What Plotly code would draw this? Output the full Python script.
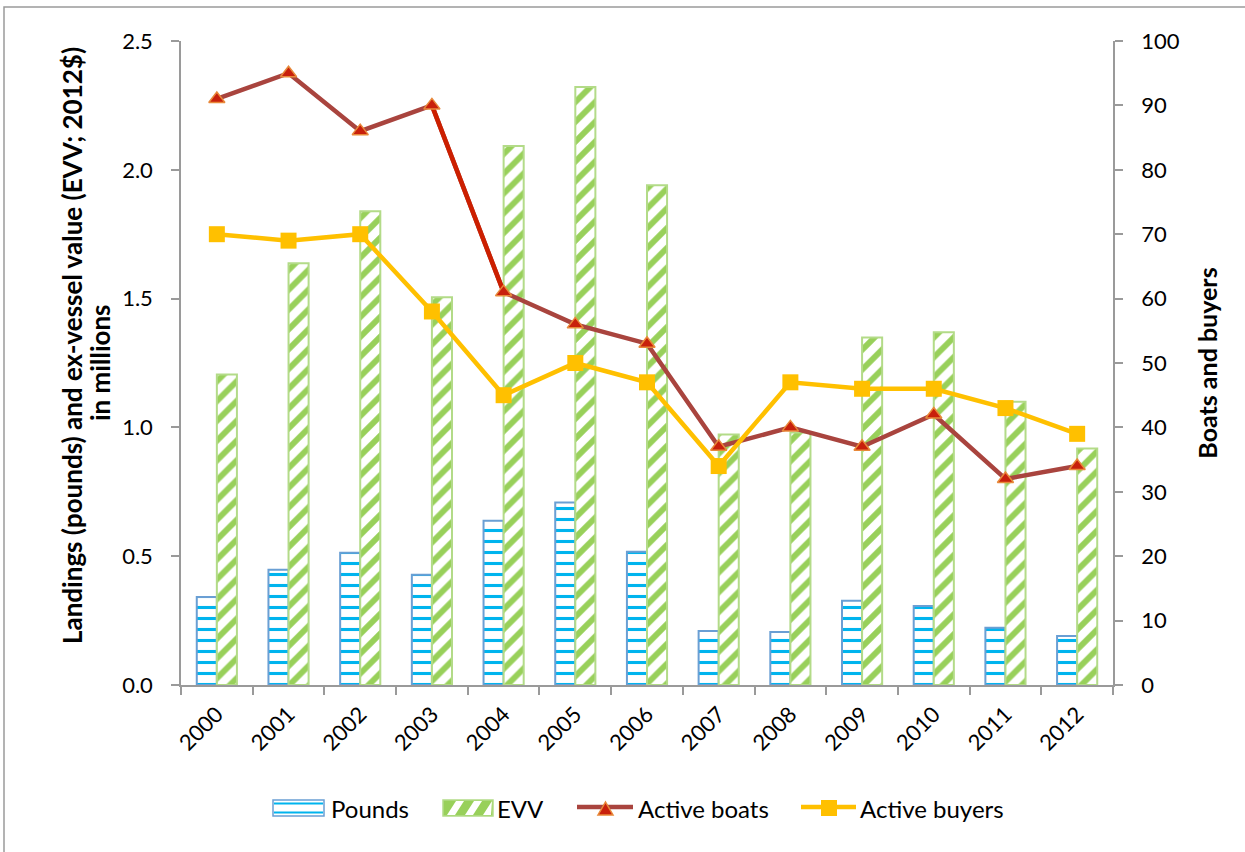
import plotly.graph_objects as go

years = ["2000", "2001", "2002", "2003", "2004", "2005", "2006",
         "2007", "2008", "2009", "2010", "2011", "2012"]
pounds = [0.342, 0.447, 0.513, 0.428, 0.638, 0.708, 0.517,
          0.210, 0.206, 0.327, 0.307, 0.222, 0.190]
evv = [1.205, 1.637, 1.839, 1.505, 2.092, 2.321, 1.940,
       0.972, 0.980, 1.349, 1.369, 1.100, 0.918]
active_boats = [91, 95, 86, 90, 61, 56, 53, 37, 40, 37, 42, 32, 34]
active_buyers = [70, 69, 70, 58, 45, 50, 47, 34, 47, 46, 46, 43, 39]
left_ticks = [0.0, 0.5, 1.0, 1.5, 2.0, 2.5]
right_ticks = [0, 10, 20, 30, 40, 50, 60, 70, 80, 90, 100]
legend_labels = ["Pounds", "EVV", "Active boats", "Active buyers"]
left_title_lines = ["Landings (pounds) and ex-vessel value (EVV; 2012$)", "in millions"]
right_title = "Boats and buyers"

FONT = "Lato, Open Sans, Liberation Sans, Arial"
BOAT_LINE = "#A9443E"
BOAT_SEG = "#CC1F00"
BOAT_MK = "#C8200C"
BOAT_MK_EDGE = "#E8893A"
BUYER = "#FFC000"
POUND_EDGE = "#6A9FD4"
POUND_FG = "#00B4EE"
EVV_EDGE = "#B3DB88"
EVV_FG = "#98D05A"
AXIS = "#9A9A9A"

W, H = 1245, 852
L, R, T, B = 181, 132, 41, 167
pw, ph = W - L - R, H - T - B


def px(x):
    return (x - L) / pw


def py(y):
    return (H - B - y) / ph


fig = go.Figure()

fig.add_trace(go.Bar(
    x=years, y=pounds, name=legend_labels[0], showlegend=False,
    marker=dict(color="white", line=dict(color=POUND_EDGE, width=2),
                pattern=dict(shape="-", fgcolor=POUND_FG, bgcolor="white",
                             size=11, solidity=0.28, fillmode="replace")),
))
fig.add_trace(go.Bar(
    x=years, y=evv, name=legend_labels[1], showlegend=False,
    marker=dict(color="white", line=dict(color=EVV_EDGE, width=2),
                pattern=dict(shape="/", fgcolor=EVV_FG, bgcolor="white",
                             size=14, solidity=0.42, fillmode="replace")),
))

fig.add_trace(go.Scatter(
    x=years, y=active_boats, name=legend_labels[2], yaxis="y2",
    mode="lines", showlegend=False,
    line=dict(color=BOAT_LINE, width=4.5),
))
fig.add_trace(go.Scatter(
    x=years[3:5], y=active_boats[3:5], yaxis="y2", mode="lines",
    line=dict(color=BOAT_SEG, width=4.5), showlegend=False, hoverinfo="skip",
))
fig.add_trace(go.Scatter(
    x=years, y=active_boats, yaxis="y2", mode="markers", showlegend=False,
    marker=dict(symbol="triangle-up", size=14, color=BOAT_MK,
                line=dict(color=BOAT_MK_EDGE, width=1.5)),
    hoverinfo="skip",
))
fig.add_trace(go.Scatter(
    x=years, y=active_buyers, name=legend_labels[3], yaxis="y2",
    mode="lines+markers", showlegend=False,
    line=dict(color=BUYER, width=4.5),
    marker=dict(symbol="square", size=16, color=BUYER),
))

shapes = []
# outer border
shapes.append(dict(type="rect", xref="paper", yref="paper",
                   x0=px(4), x1=px(1252), y0=py(860), y1=py(7),
                   line=dict(color=AXIS, width=1.5),
                   fillcolor="rgba(0,0,0,0)", layer="below"))

# legend swatch: Pounds
shapes.append(dict(type="rect", xref="paper", yref="paper",
                   x0=px(273), x1=px(324), y0=py(816), y1=py(800),
                   line=dict(color=POUND_EDGE, width=1.5), fillcolor="white"))
for yy in (803.5, 812.5):
    shapes.append(dict(type="line", xref="paper", yref="paper",
                       x0=px(274), x1=px(323), y0=py(yy), y1=py(yy),
                       line=dict(color=POUND_FG, width=2)))

# legend swatch: EVV
shapes.append(dict(type="rect", xref="paper", yref="paper",
                   x0=px(443), x1=px(493), y0=py(816), y1=py(800),
                   line=dict(color=EVV_EDGE, width=1.5), fillcolor=EVV_FG))
for b0 in (447, 465, 483):
    pts = [(b0, 815), (b0 + 8, 815), (min(b0 + 17, 492), 801),
           (min(b0 + 9, 492), 801)]
    path = "M " + " L ".join(f"{px(a)},{py(b)}" for a, b in pts) + " Z"
    shapes.append(dict(type="path", xref="paper", yref="paper", path=path,
                       fillcolor="white", line=dict(width=0)))

# legend swatch: Active boats
shapes.append(dict(type="line", xref="paper", yref="paper",
                   x0=px(577), x1=px(633), y0=py(807), y1=py(807),
                   line=dict(color=BOAT_LINE, width=4.5)))
tri = [(598, 815), (613, 815), (605.5, 802)]
shapes.append(dict(type="path", xref="paper", yref="paper",
                   path="M " + " L ".join(f"{px(a)},{py(b)}" for a, b in tri) + " Z",
                   fillcolor=BOAT_MK, line=dict(color=BOAT_MK_EDGE, width=1.5)))

# legend swatch: Active buyers
shapes.append(dict(type="line", xref="paper", yref="paper",
                   x0=px(801), x1=px(856), y0=py(807), y1=py(807),
                   line=dict(color=BUYER, width=4.5)))
shapes.append(dict(type="rect", xref="paper", yref="paper",
                   x0=px(821), x1=px(837), y0=py(816), y1=py(800),
                   fillcolor=BUYER, line=dict(width=0)))

annotations = []
for label, xstart in zip(legend_labels, (329, 495, 636, 858)):
    annotations.append(dict(text=label, xref="paper", yref="paper",
                            x=px(xstart), y=py(808), xanchor="left",
                            yanchor="middle", showarrow=False,
                            font=dict(size=24, family=FONT, color="black")))

# left axis title (two lines, placed as in the reference)
for line, xc, yc in zip(left_title_lines, (72, 100), (346, 363)):
    annotations.append(dict(text=f"<b>{line}</b>", xref="paper", yref="paper",
                            x=px(xc), y=py(yc), xanchor="center",
                            yanchor="middle", textangle=-90, showarrow=False,
                            font=dict(size=26, family=FONT, color="black")))

fig.update_layout(
    width=W, height=H,
    margin=dict(l=L, r=R, t=T, b=B),
    paper_bgcolor="white", plot_bgcolor="white",
    font=dict(family=FONT, size=22, color="black"),
    barmode="group", bargap=0.44, bargroupgap=0,
    showlegend=False,
    shapes=shapes, annotations=annotations,
    xaxis=dict(type="category", range=[-0.5, 12.5], tickangle=-45,
               ticks="outside", tickson="boundaries", ticklen=8,
               tickcolor=AXIS, tickwidth=1.5,
               showline=True, linecolor=AXIS, linewidth=1.5,
               showgrid=False, tickfont=dict(size=22),
               ticklabelstandoff=6),
    yaxis=dict(range=[0, 2.5], tickvals=left_ticks,
               ticktext=[f"{v:.1f}" for v in left_ticks],
               ticks="outside", ticklen=8, tickcolor=AXIS, tickwidth=1.5,
               showline=True, linecolor=AXIS, linewidth=1.5,
               showgrid=False, zeroline=False, tickfont=dict(size=22),
               ticklabelstandoff=14),
    yaxis2=dict(range=[0, 100], tickvals=right_ticks, overlaying="y",
                side="right", ticks="outside", ticklen=8, tickcolor=AXIS,
                tickwidth=1.5,
                showline=True, linecolor=AXIS, linewidth=1.5,
                showgrid=False, zeroline=False, tickfont=dict(size=22),
                ticklabelstandoff=14,
                title=dict(text=f"<b>{right_title}</b>", font=dict(size=25),
                           standoff=21)),
)

fig.write_html("out.html", config={"displayModeBar": False},
               post_script="document.body.style.margin='0';document.body.style.overflow='hidden';")
